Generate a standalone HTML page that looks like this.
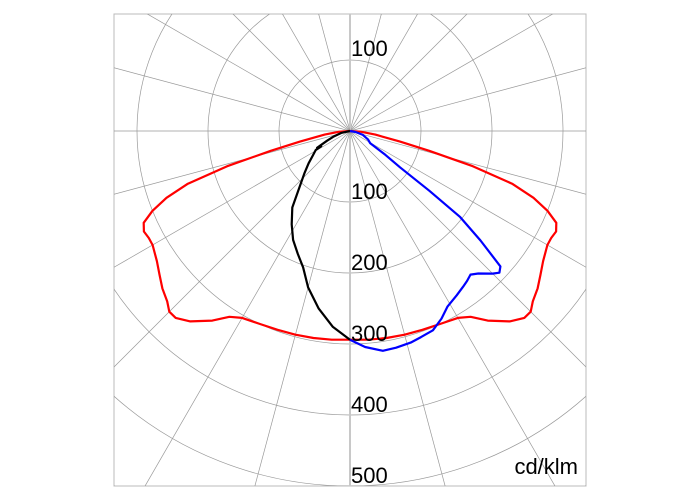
<!DOCTYPE html>
<html><head><meta charset="utf-8"><style>
html,body{margin:0;padding:0;background:#fff;}
svg{display:block;font-family:"Liberation Sans",sans-serif;}
</style></head><body>
<svg id="chart" width="700" height="500" viewBox="0 0 700 500">
<defs><clipPath id="box"><rect x="114" y="14" width="472" height="472"/></clipPath></defs>
<rect x="114" y="14" width="472" height="472" fill="#fff" stroke="#bbb" stroke-width="1"/>
<g id="grid" clip-path="url(#box)"></g>
<g id="series" clip-path="url(#box)"></g>
<g id="labels"></g>
<text x="578" y="474" font-size="22" text-anchor="end" fill="#000">cd/klm</text>
</svg>
<script>
// Data (angles in degrees from nadir, values in cd/klm)
const ringValues = [100,200,300,400,500,600,700];
const tickLabelsBelow = ["100","200","300","400","500"];
const tickLabelAbove = "100";
const redAngles = [0,5,10,15,20,25,30,33,36,40,43,45,47,50,53,56,60,62,64,66,68,70,72,74,76,78,82,86,90];
const redValues = [294,295,296,297,298,300,304,312,330,350,360,360,352,345,336,328,321,321,323,318,300,275,240,180,115,72,36,15,0];
const blueAngles = [0,4,8.5,12,16,19,22.6,26,29,33,36,38,40,42,45,46.5,48,50,52,53,54,56,59,65,73,80,90];
const blueValues = [294,305,313,312,310,307,304,294,283,276,271,268,264,270,284,290,285,240,197,140,87,60,33,28,19,8,0];
const blackAngles = [0,5,10,15,19,23,27.6,32,37,42,47,52,57,61,62,63,67,71,78,90];
const blackValues = [294,277,254,228,203,188,173,155,135,106,88,74,62,55,46,52,35,25,12,0];

const NS = "http://www.w3.org/2000/svg";
const cx = 350, cy = 131;
const scale = 0.71; // px per cd/klm
const rPx = v => v * scale;
const px = (ang, v) => cx + Math.sin(ang * Math.PI / 180) * rPx(v);
const py = (ang, v) => cy + Math.cos(ang * Math.PI / 180) * rPx(v);

const grid = document.getElementById('grid');
ringValues.forEach(v => {
  const c = document.createElementNS(NS, 'circle');
  
  
  c.setAttribute('cx', cx); c.setAttribute('cy', cy); c.setAttribute('r', rPx(v));
  c.setAttribute('fill', 'none'); c.setAttribute('stroke', '#999'); c.setAttribute('stroke-width', '0.7');
  grid.appendChild(c);
});
for (let a = 0; a < 360; a += 15) {
  const l = document.createElementNS(NS, 'line');
  
  
  const vertical = (a % 180 === 0);
  l.setAttribute('x1', cx); l.setAttribute('y1', cy);
  l.setAttribute('x2', px(a, 800)); l.setAttribute('y2', py(a, 800));
  l.setAttribute('stroke', vertical ? '#c8c8c8' : '#999');
  l.setAttribute('stroke-width', vertical ? '2' : '0.7');
  grid.appendChild(l);
}

const labels = document.getElementById('labels');
tickLabelsBelow.forEach((t, i) => {
  const tx = document.createElementNS(NS, 'text');
  
  
  tx.setAttribute('x', cx + 1);
  tx.setAttribute('y', cy + rPx(ringValues[i]) - 3);
  tx.setAttribute('font-size', '22');
  tx.textContent = t;
  labels.appendChild(tx);
});
const topLabel = document.createElementNS(NS, 'text');


topLabel.setAttribute('x', cx + 1);
topLabel.setAttribute('y', cy - rPx(100) - 4);
topLabel.setAttribute('font-size', '22');
topLabel.textContent = tickLabelAbove;
labels.appendChild(topLabel);

const series = document.getElementById('series');
function drawCurve(angles, values, sign, color, name) {
  const pts = angles.map((a, i) => px(sign * a, values[i]).toFixed(1) + ',' + py(sign * a, values[i]).toFixed(1));
  const p = document.createElementNS(NS, 'polyline');
  
  
  p.setAttribute('points', pts.join(' '));
  p.setAttribute('fill', 'none'); p.setAttribute('stroke', color);
  p.setAttribute('stroke-width', '2.2'); p.setAttribute('stroke-linejoin', 'round');
  series.appendChild(p);
}
drawCurve(redAngles, redValues, -1, '#f00', 'red-curve-left');
drawCurve(redAngles, redValues, 1, '#f00', 'red-curve-right');
drawCurve(blackAngles, blackValues, -1, '#000', 'black-curve');
drawCurve(blueAngles, blueValues, 1, '#00f', 'blue-curve');
</script>
</body></html>
